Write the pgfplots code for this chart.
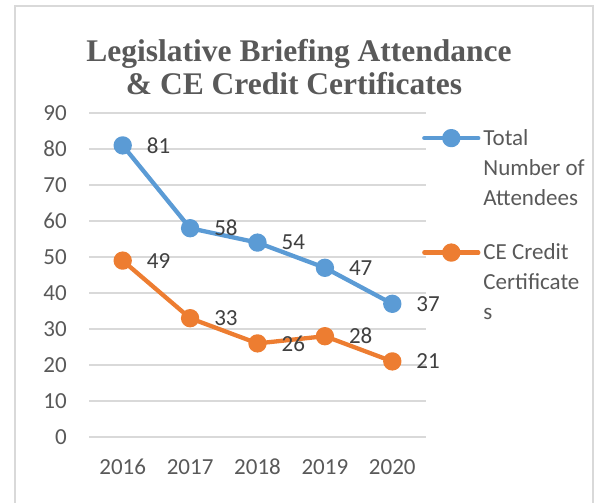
\documentclass[border=0pt]{standalone}
\usepackage{fontspec}
\setmainfont{Carlito}
\newfontfamily\titlefont{Liberation Serif}
\usepackage{pgfplots}
\pgfplotsset{compat=1.18}
\definecolor{cblue}{HTML}{5B9BD5}
\definecolor{corange}{HTML}{ED7D31}
\definecolor{ctext}{HTML}{595959}
\definecolor{clab}{HTML}{404040}
\definecolor{cgrid}{HTML}{D9D9D9}
\begin{document}
\begin{tikzpicture}[x=1pt,y=1pt]
\clip (0pt,0pt) rectangle (600pt,503pt);
\draw[cgrid, line width=1.5pt] (15pt,-20pt) rectangle (593pt,497pt);
\node[font=\titlefont\bfseries\fontsize{31.5}{33}\selectfont, text=ctext, anchor=base, inner sep=0pt] at (299pt,441pt) {Legislative Briefing Attendance};
\node[font=\titlefont\bfseries\fontsize{31.5}{33}\selectfont, text=ctext, anchor=base, inner sep=0pt] at (294pt,408pt) {\& CE Credit Certificates};
\begin{axis}[
  at={(89pt,66pt)}, anchor=south west, scale only axis, width=337pt, height=324pt,
  xmin=-0.5, xmax=4.5, ymin=0, ymax=90,
  xtick={0,1,2,3,4}, xticklabels={2016,2017,2018,2019,2020},
  ytick={0,10,...,90},
  axis line style={draw=none}, major tick length=0pt,
  ymajorgrids, grid style={cgrid, line width=1.3pt},
  tick label style={font=\fontsize{23}{27}\selectfont, text=ctext, inner sep=0pt},
  /pgf/number format/assume math mode=true,
  yticklabel style={anchor=east, xshift=-22pt},
  xticklabel style={anchor=north, yshift=-22pt},
  clip=false,
  nodes near coords align=horizontal,
  every node near coord/.append style={anchor=west, xshift=22pt, inner sep=0pt, font=\fontsize{23}{27}\selectfont, text=clab},
  legend style={at={(axis description cs:0.988,0.957)}, anchor=north west, draw=none, fill=none, inner sep=0pt,
    font=\fontsize{23}{30}\selectfont, text=ctext,
    cells={anchor=base west, align=left, inner sep=0pt}, row sep=33pt,
    /tikz/every odd column/.append style={column sep=1pt}},
  legend image code/.code={\draw[mark repeat=2,mark phase=2] plot coordinates {(0pt,67pt) (27pt,67pt) (54pt,67pt)};},
]
\addplot[cblue, line width=4.3pt, line cap=round, line join=round, mark=*, mark size=7pt, mark options={solid}, nodes near coords]
  coordinates {(0,81) (1,58) (2,54) (3,47) (4,37)};
\addlegendentry{Total\\Number of\\Attendees}
\addplot[corange, line width=4.3pt, line cap=round, line join=round, mark=*, mark size=7pt, mark options={solid}, nodes near coords]
  coordinates {(0,49) (1,33) (2,26) (3,28) (4,21)};
\addlegendentry{CE Credit\\Certificate\\s}
\end{axis}
\end{tikzpicture}
\end{document}
